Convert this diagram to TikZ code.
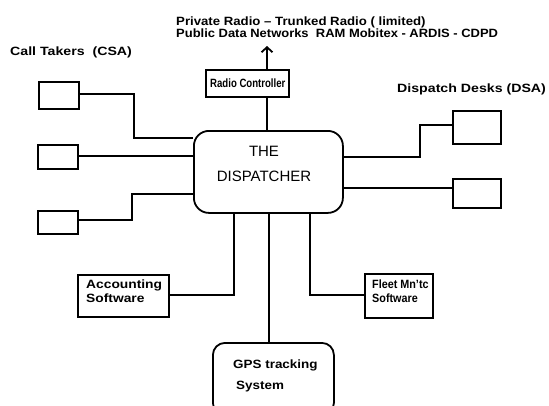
\documentclass[tikz,border=0pt]{standalone}
\usepackage{fontspec}
\setmainfont{Liberation Sans}
\usetikzlibrary{arrows.meta}
\newcommand{\sx}[2]{\scalebox{#1}[1]{#2}}
\begin{document}
\begin{tikzpicture}[x=1pt,y=-1pt,
  conn/.style={line width=1.8pt},
  boxed/.style={draw,line width=1.8pt,inner sep=0pt,anchor=north west},
  lbl/.style={font=\bfseries\fontsize{12}{13}\selectfont,inner sep=0pt,anchor=base west},
  big/.style={font=\fontsize{15}{16}\selectfont,inner sep=0pt,anchor=center}]
\useasboundingbox (0,0) rectangle (549,405);
\clip (0,0) rectangle (549,405);
% header texts
\node[lbl] (t1) at (176,25) {\sx{1.1}{Private Radio -- Trunked Radio ( limited)}};
\node[lbl] (t2) at (176,37) {\sx{1.08}{Public Data Networks\ \ RAM Mobitex - ARDIS - CDPD}};
\node[lbl] (ct) at (10,55) {\sx{1.18}{Call Takers\ \ (CSA)}};
\node[lbl] (dd) at (397,92) {\sx{1.18}{Dispatch Desks (DSA)}};
% radio controller
\node[boxed,minimum width=83,minimum height=27] (rc) at (205,69) {};
\node[lbl] (rct) at (210,87) {\sx{0.8}{Radio Controller}};
\coordinate (up) at (267,46);
% dispatcher
\node[draw,line width=1.8pt,rounded corners=15pt,minimum width=149,minimum height=82,anchor=north west,inner sep=0pt] (disp) at (193,130) {};
\node[big] (the) at (264,151) {THE};
\node[big] (dsp) at (264,176) {DISPATCHER};
% call taker boxes
\node[boxed,minimum width=40,minimum height=27] (c1) at (38,81) {};
\node[boxed,minimum width=40,minimum height=24] (c2) at (37,144) {};
\node[boxed,minimum width=40,minimum height=23] (c3) at (37,210) {};
% dispatch desk boxes
\node[boxed,minimum width=48,minimum height=33] (d1) at (452,110) {};
\node[boxed,minimum width=48,minimum height=29] (d2) at (452,178) {};
% software boxes
\node[boxed,minimum width=91,minimum height=42] (acc) at (77,274) {};
\node[lbl] (acc1) at (86,288) {\sx{1.15}{Accounting}};
\node[lbl] (acc2) at (86,302) {\sx{1.15}{Software}};
\node[boxed,minimum width=68,minimum height=44] (fl) at (364,273) {};
\node[lbl] (fl1) at (372,288) {\sx{0.9}{Fleet Mn'tc}};
\node[lbl] (fl2) at (372,302) {\sx{0.9}{Software}};
% GPS
\node[draw,line width=1.8pt,rounded corners=12pt,minimum width=121,minimum height=72,anchor=north west,inner sep=0pt] (gps) at (212,342) {};
\node[lbl] (g1) at (233,368) {\sx{1.12}{GPS tracking}};
\node[lbl] (g2) at (236,389) {\sx{1.12}{System}};
% connectors
\draw[conn,-{Straight Barb[length=5pt,width=11pt]}] (rc.north -| up) -- (up);
\draw[conn] (disp.north -| up) -- (rc.south -| up);
\draw[conn] (c1.east |- 0,94) -- (134,94) |- (disp.west |- 0,138);
\draw[conn] (c2.east |- 0,156) -- (disp.west |- 0,156);
\draw[conn] (c3.east |- 0,220) -- (132,220) |- (disp.west |- 0,194);
\draw[conn] (disp.east |- 0,157) -- (420,157) |- (d1.west |- 0,125);
\draw[conn] (disp.east |- 0,188) -- (d2.west |- 0,188);
\draw[conn] (disp.south -| 234,0) |- (acc.east |- 0,295);
\draw[conn] (disp.south -| 269,0) -- (gps.north -| 269,0);
\draw[conn] (disp.south -| 310,0) |- (fl.west |- 0,295);
\end{tikzpicture}
\end{document}
